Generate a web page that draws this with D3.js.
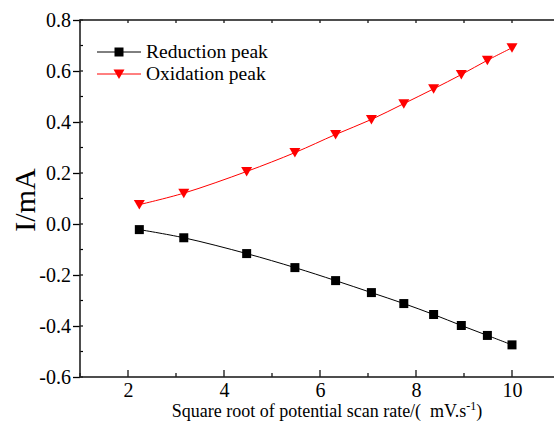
<!DOCTYPE html>
<html>
<head>
<meta charset="utf-8">
<script src="https://cdn.jsdelivr.net/npm/d3@7"></script>
<style>
  body { margin: 0; background: #fff; }
  svg text { font-family: "Liberation Serif", "Times New Roman", serif; fill: #000; }
</style>
</head>
<body>
<div id="chart"></div>
<script>
// sqrt of scan rate (5..100 mV/s)
var xVals = [2.236, 3.162, 4.472, 5.477, 6.325, 7.071, 7.746, 8.367, 8.944, 9.487, 10]
var reduction = [-0.022, -0.054, -0.116, -0.171, -0.222, -0.269, -0.312, -0.355, -0.398, -0.437, -0.474]
var oxidation = [0.076, 0.121, 0.206, 0.280, 0.351, 0.410, 0.472, 0.530, 0.586, 0.642, 0.691]
var xTicks = [2, 4, 6, 8, 10]
var yTicks = [-0.6, -0.4, -0.2, 0.0, 0.2, 0.4, 0.6, 0.8]
var seriesNames = ['Reduction peak', 'Oxidation peak']

var w = 554
var h = 428
// plot frame edges (window.top is taken, so prefixed)
var pLeft = 80, pRight = 560, pTop = 20, pBottom = 377
var serif = '"Liberation Serif", "Times New Roman", serif'

var x = d3.scaleLinear().domain([1, 11]).range([pLeft, pRight])
var y = d3.scaleLinear().domain([-0.6, 0.8]).range([pBottom, pTop])

var svg = d3.select('#chart').append('svg')
  .attr('width', w)
  .attr('height', h)

// minor ticks
var xMinor = d3.range(1, 12, 1)
var yMinor = d3.range(-0.6, 0.81, 0.1)

svg.append('g').selectAll('line').data(xMinor).enter().append('line')
  .attr('x1', function (d) { return x(d) }).attr('x2', function (d) { return x(d) })
  .attr('y1', pBottom).attr('y2', function (d) { return xTicks.indexOf(d) >= 0 ? pBottom - 7 : pBottom - 4 })
  .attr('stroke', '#000').attr('stroke-width', 1.2)

svg.append('g').selectAll('line').data(xMinor).enter().append('line')
  .attr('x1', function (d) { return x(d) }).attr('x2', function (d) { return x(d) })
  .attr('y1', pTop).attr('y2', pTop + 3)
  .attr('stroke', '#000').attr('stroke-width', 1.2)

svg.append('g').selectAll('line').data(yMinor).enter().append('line')
  .attr('x1', pLeft).attr('x2', pLeft + 3)
  .attr('y1', function (d) { return y(d) }).attr('y2', function (d) { return y(d) })
  .attr('stroke', '#000').attr('stroke-width', 1.2)

// y axis (ticks outward)
var yAxis = svg.append('g')
  .attr('transform', 'translate(' + pLeft + ',0)')
  .call(d3.axisLeft(y).tickValues(yTicks).tickSize(7).tickPadding(2))
yAxis.attr('font-family', serif)
yAxis.select('.domain').remove()
yAxis.selectAll('.tick line').attr('stroke-width', 1.3)
yAxis.selectAll('text').attr('font-size', 20).text(function (d) { return d3.format('.1f')(d).replace('\u2212', '-') })

// x axis labels
var xAxis = svg.append('g')
  .attr('transform', 'translate(0,' + pBottom + ')')
  .call(d3.axisBottom(x).tickValues(xTicks).tickSize(0).tickPadding(6))
xAxis.attr('font-family', serif)
xAxis.select('.domain').remove()
xAxis.selectAll('text').attr('font-size', 20)

// frame
svg.append('rect')
  .attr('x', pLeft).attr('y', pTop)
  .attr('width', pRight - pLeft).attr('height', pBottom - pTop)
  .attr('fill', 'none').attr('stroke', '#222').attr('stroke-width', 1.6)

var line = d3.line()
  .x(function (d) { return x(d[0]) })
  .y(function (d) { return y(d[1]) })
  .curve(d3.curveCatmullRom)

var redPts = xVals.map(function (v, i) { return [v, reduction[i]] })
var oxPts = xVals.map(function (v, i) { return [v, oxidation[i]] })

svg.append('path').datum(redPts).attr('d', line)
  .attr('fill', 'none').attr('stroke', '#000').attr('stroke-width', 1)
svg.append('path').datum(oxPts).attr('d', line)
  .attr('fill', 'none').attr('stroke', '#ff0000').attr('stroke-width', 1)

var square = d3.symbol().type(d3.symbolSquare).size(81)
var tri = 'M-5.5,-4.5L5.5,-4.5L0,5Z'

svg.append('g').selectAll('path').data(redPts).enter().append('path')
  .attr('d', square)
  .attr('transform', function (d) { return 'translate(' + x(d[0]) + ',' + y(d[1]) + ')' })
  .attr('fill', '#000')

svg.append('g').selectAll('path').data(oxPts).enter().append('path')
  .attr('d', tri)
  .attr('transform', function (d) { return 'translate(' + x(d[0]) + ',' + y(d[1]) + ')' })
  .attr('fill', '#ff0000')

// legend
var legend = svg.append('g')
var colours = ['#000', '#ff0000']
seriesNames.forEach(function (name, i) {
  var ly = 52 + i * 22
  legend.append('line').attr('x1', 97).attr('x2', 141).attr('y1', ly).attr('y2', ly)
    .attr('stroke', colours[i]).attr('stroke-width', 1)
  legend.append('path')
    .attr('d', i == 0 ? square() : tri)
    .attr('transform', 'translate(119,' + ly + ')')
    .attr('fill', colours[i])
  legend.append('text').attr('x', 146).attr('y', ly + 6)
    .attr('font-size', 19.5).text(name)
})

// axis titles
svg.append('text')
  .attr('transform', 'translate(35,' + 200 + ') rotate(-90)')
  .attr('text-anchor', 'middle')
  .attr('font-size', 30)
  .text('I/mA')

var xt = svg.append('text')
  .attr('x', 327).attr('y', 417)
  .attr('text-anchor', 'middle')
  .attr('font-size', 18)
xt.append('tspan').text('Square root of potential scan rate/(\u00a0\u00a0mV.s')
xt.append('tspan').attr('font-size', 12).attr('dy', -7).text('-1')
xt.append('tspan').attr('dy', 7).text(')')
</script>
</body>
</html>
